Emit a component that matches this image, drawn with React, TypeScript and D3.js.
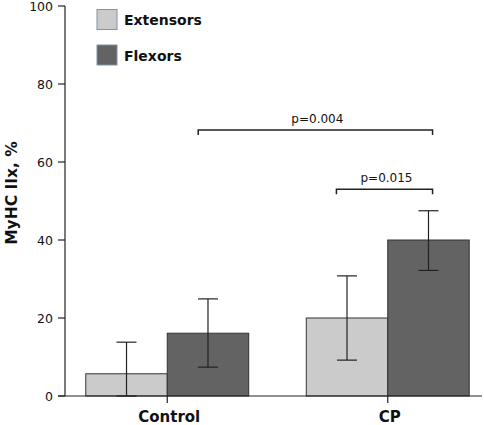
import React from "react";
import * as d3 from "d3";

const categories = ["Control", "CP"];
const seriesNames = ["Extensors", "Flexors"];
const extensorsMean = [5.7, 20.0];
const extensorsLow = [0, 9.2];
const extensorsHigh = [13.8, 30.8];
const flexorsMean = [16.1, 40.0];
const flexorsLow = [7.4, 32.2];
const flexorsHigh = [24.9, 47.5];
const yTicks = [0, 20, 40, 60, 80, 100];
// bracket ends: [category, series, fraction across that bar]
const brackets = [
  { label: "p=0.004", from: ["Control", "Flexors", 0.38], to: ["CP", "Flexors", 0.55], y: 68.2 },
  { label: "p=0.015", from: ["CP", "Extensors", 0.37], to: ["CP", "Flexors", 0.55], y: 53.0 },
];

const W = 484;
const H = 425;
const colors = ["#cbcbcb", "#636363"];
const font = "'DejaVu Sans', Verdana, sans-serif";

export default function App() {
  const y = d3.scaleLinear().domain([0, 100]).range([396, 6]);
  const x = d3
    .scaleBand<string>()
    .domain(categories)
    .range([57, 498])
    .paddingInner(0.261)
    .paddingOuter(0.1305);
  const xs = d3.scaleBand<string>().domain(seriesNames).range([0, x.bandwidth()]);
  const means = [extensorsMean, flexorsMean];
  const lows = [extensorsLow, flexorsLow];
  const highs = [extensorsHigh, flexorsHigh];
  const pos = (c: string, s: string, f: number) => (x(c) ?? 0) + (xs(s) ?? 0) + xs.bandwidth() * f;
  const axisX = 65;

  return (
    <svg width={W} height={H} style={{ position: "absolute", left: 0, top: 0 }} fontFamily={font}>
      <rect width={W} height={H} fill="#fff" />
      {/* bars */}
      {seriesNames.map((s, si) =>
        categories.map((c, ci) => (
          <rect
            key={s + c}
            x={(x(c) ?? 0) + (xs(s) ?? 0)}
            y={y(means[si][ci])}
            width={xs.bandwidth()}
            height={y(0) - y(means[si][ci])}
            fill={colors[si]}
            stroke="#333"
            strokeWidth={1}
          />
        ))
      )}
      {/* error bars */}
      {seriesNames.map((s, si) =>
        categories.map((c, ci) => {
          const cx = pos(c, s, 0.5);
          const y1 = y(highs[si][ci]);
          const y0 = y(lows[si][ci]);
          return (
            <g key={"e" + s + c} stroke="#222" strokeWidth={1.2}>
              <line x1={cx} x2={cx} y1={y1} y2={y0} />
              <line x1={cx - 10} x2={cx + 10} y1={y1} y2={y1} />
              <line x1={cx - 10} x2={cx + 10} y1={y0} y2={y0} />
            </g>
          );
        })
      )}
      {/* axes */}
      <line x1={axisX} x2={axisX} y1={y(100)} y2={y(0)} stroke="#222" strokeWidth={1.2} />
      {yTicks.map((t) => (
        <g key={t}>
          <line x1={axisX - 7} x2={axisX} y1={y(t)} y2={y(t)} stroke="#222" strokeWidth={1.2} />
          <text x={53} y={y(t)} dy="0.36em" textAnchor="end" fontSize={12.5} fill="#111">
            {t}
          </text>
        </g>
      ))}
      <line x1={58} x2={482} y1={y(0)} y2={y(0)} stroke="#222" strokeWidth={1.2} />
      {categories.map((c) => {
        const cx = (x(c) ?? 0) + x.bandwidth() / 2;
        return (
          <g key={c}>
            <line x1={cx} x2={cx} y1={y(0)} y2={y(0) + 7} stroke="#222" strokeWidth={1.2} />
            <text x={cx + 2} y={422} textAnchor="middle" fontSize={15} fontWeight="bold" fill="#111">
              {c}
            </text>
          </g>
        );
      })}
      <text
        transform={`translate(17,193) rotate(-90)`}
        textAnchor="middle"
        fontSize={15.5}
        fontWeight="bold"
        fill="#111"
      >
        MyHC IIx, %
      </text>
      {/* brackets */}
      {brackets.map((b) => {
        const x1 = pos(b.from[0] as string, b.from[1] as string, b.from[2] as number);
        const x2 = pos(b.to[0] as string, b.to[1] as string, b.to[2] as number);
        const by = y(b.y);
        return (
          <g key={b.label}>
            <path
              d={`M${x1},${by + 5}V${by}H${x2}V${by + 5}`}
              fill="none"
              stroke="#222"
              strokeWidth={1.5}
            />
            <text x={(x1 + x2) / 2 + 2} y={by - 7} textAnchor="middle" fontSize={12} fill="#111">
              {b.label}
            </text>
          </g>
        );
      })}
      {/* legend */}
      {seriesNames.map((s, si) => (
        <g key={"l" + s} transform={`translate(97,${9.5 + si * 35.5})`}>
          <rect width={20} height={20} fill={colors[si]} stroke="#7f93ab" strokeWidth={1} />
          <text x={27} y={15.5} fontSize={14} fontWeight="bold" fill="#111">
            {s}
          </text>
        </g>
      ))}
    </svg>
  );
}
